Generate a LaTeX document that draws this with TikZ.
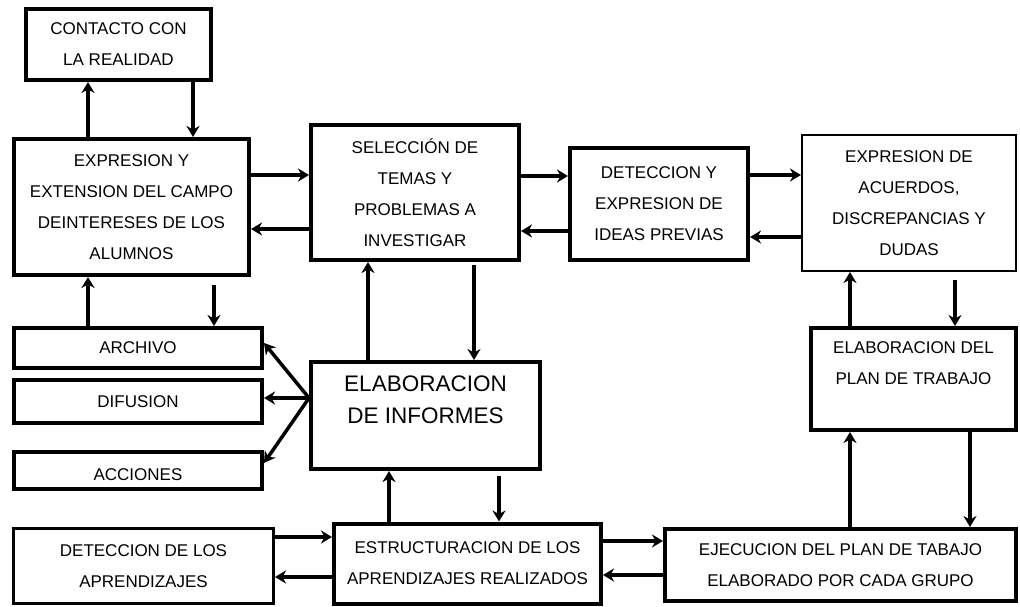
\documentclass[tikz,border=0pt]{standalone}
\usepackage{fontspec}
\setmainfont{Liberation Sans}
\usepackage{tikz}
\usetikzlibrary{arrows.meta}

\begin{document}
\begin{tikzpicture}[
    x=1pt, y=-1pt,
    box/.style={rectangle, draw, line width=4pt, inner sep=0pt, align=center,
      font=\fontsize{17}{31}\selectfont},
    thinbox/.style={box, line width=2pt},
    arrow/.style={-{Stealth[length=11pt,width=13pt]}, line width=3.5pt}
]
    \useasboundingbox (0,0) rectangle (1020,607);

    % Top row
    \node[box, minimum width=185pt, minimum height=71pt] (contacto) at (118.5,44.5) {CONTACTO CON\\LA REALIDAD};
    \node[box, minimum width=235pt, minimum height=136pt] (campo) at (131.5,207) {EXPRESION Y\\EXTENSION DEL CAMPO\\DEINTERESES DE LOS\\ALUMNOS};
    \node[box, minimum width=208pt, minimum height=135pt] (seleccion) at (415,192.5) {SELECCIÓN DE\\TEMAS Y\\PROBLEMAS A\\INVESTIGAR};
    \node[box, minimum width=178pt, minimum height=112pt] (ideas) at (659,204) {DETECCION Y\\EXPRESION DE\\IDEAS PREVIAS};
    \node[thinbox, minimum width=214pt, minimum height=136pt] (acuerdos) at (909,203) {EXPRESION DE\\ACUERDOS,\\DISCREPANCIAS Y\\DUDAS};

    % Middle row
    \node[box, minimum width=248pt, minimum height=40pt] (archivo) at (138,348) {ARCHIVO};
    \node[box, minimum width=248pt, minimum height=43pt] (difusion) at (138,401.5) {DIFUSION};
    \node[box, minimum width=248pt, minimum height=37pt] (acciones) at (138,470.5) {\smash{\raisebox{-9.5pt}{ACCIONES}}};
    \node[box, minimum width=229pt, minimum height=107pt,
      font=\fontsize{22.5}{32}\selectfont] (informes) at (425.5,415.5) {ELABORACION\\DE INFORMES\\\mbox{}};
    \node[box, minimum width=205pt, minimum height=102pt] (plan) at (913.5,379) {ELABORACION DEL\\PLAN DE TRABAJO\\\mbox{}};

    % Bottom row
    \node[box, line width=3pt, minimum width=260pt, minimum height=75pt] (aprend) at (143.5,566) {DETECCION DE LOS\\APRENDIZAJES};
    \node[box, minimum width=267pt, minimum height=80pt] (estruct) at (467.5,563.5) {ESTRUCTURACION DE LOS\\APRENDIZAJES REALIZADOS};
    \node[box, minimum width=351pt, minimum height=72pt] (ejecucion) at (840.5,565) {EJECUCION DEL PLAN DE TABAJO\\ELABORADO POR CADA GRUPO};

    % Arrows
    \draw[arrow] (88,0 |- campo.north) -- (88,0 |- contacto.south);
    \draw[arrow] (193,0 |- contacto.south) -- (193,0 |- campo.north);

    \draw[arrow] (campo.east |- 0,175) -- (seleccion.west |- 0,175);
    \draw[arrow] (seleccion.west |- 0,229) -- (campo.east |- 0,229);
    \draw[arrow] (seleccion.east |- 0,176) -- (ideas.west |- 0,176);
    \draw[arrow] (ideas.west |- 0,231) -- (seleccion.east |- 0,231);
    \draw[arrow] (ideas.east |- 0,175) -- (acuerdos.west |- 0,175);
    \draw[arrow] (acuerdos.west |- 0,237) -- (ideas.east |- 0,237);

    \draw[arrow] (88,0 |- archivo.north) -- (88,0 |- campo.south);
    \draw[arrow, shorten <=8pt] (214,0 |- campo.south) -- (214,0 |- archivo.north);

    \draw[arrow] (368,0 |- informes.north) -- (368,0 |- seleccion.south);
    \draw[arrow, shorten <=3pt] (474,0 |- seleccion.south) -- (474,0 |- informes.north);

    \coordinate (salida) at (informes.west |- 0,398);
    \draw[arrow] (salida) -- (archivo.east |- 0,343);
    \draw[arrow] (salida) -- (difusion.east |- 0,398);
    \draw[arrow] (salida) -- (acciones.east |- 0,463);

    \draw[arrow] (389,0 |- estruct.north) -- (389,0 |- informes.south);
    \draw[arrow, shorten <=5pt] (499,0 |- informes.south) -- (499,0 |- estruct.north);

    \draw[arrow] (aprend.east |- 0,537) -- (estruct.west |- 0,537);
    \draw[arrow] (estruct.west |- 0,577) -- (aprend.east |- 0,577);
    \draw[arrow] (estruct.east |- 0,541) -- (ejecucion.west |- 0,541);
    \draw[arrow] (ejecucion.west |- 0,575) -- (estruct.east |- 0,575);

    \draw[arrow] (850,0 |- plan.north) -- (850,0 |- acuerdos.south);
    \draw[arrow, shorten <=8pt] (955,0 |- acuerdos.south) -- (955,0 |- plan.north);
    \draw[arrow] (850,0 |- ejecucion.north) -- (850,0 |- plan.south);
    \draw[arrow] (970,0 |- plan.south) -- (970,0 |- ejecucion.north);
\end{tikzpicture}
\end{document}
